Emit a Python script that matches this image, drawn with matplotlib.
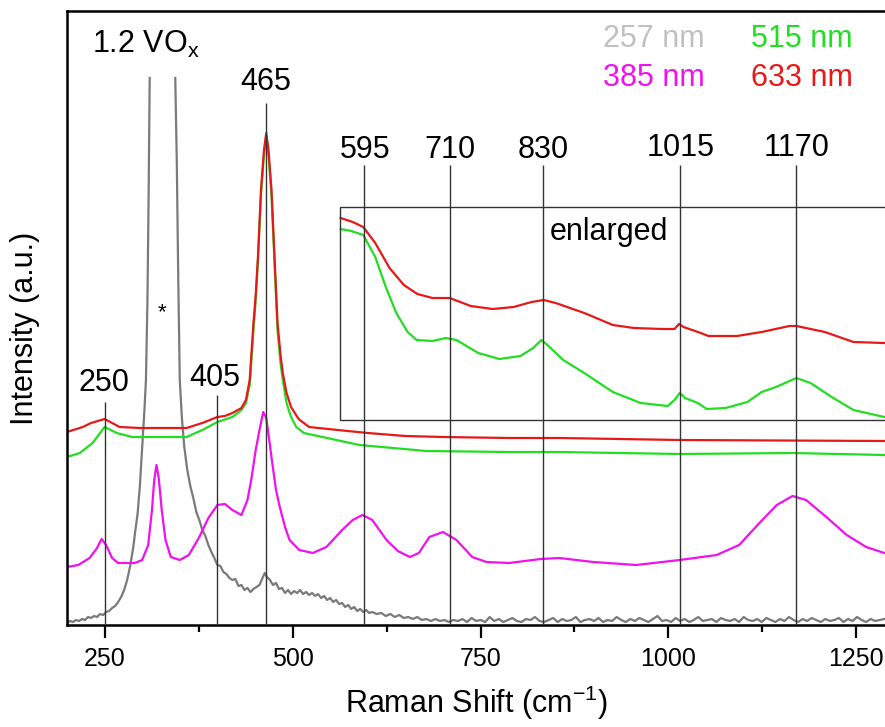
import numpy as np
import matplotlib
matplotlib.use('Agg')
import matplotlib.pyplot as plt
from matplotlib.patches import Rectangle

plt.rcParams['font.family'] = ['Liberation Sans', 'DejaVu Sans']
plt.rcParams['mathtext.default'] = 'regular'

# 633 nm spectrum (red)
red_x = [200, 221, 232, 250, 270, 297, 359, 380, 400, 410, 420, 432, 438, 443, 448, 451, 454, 458, 462, 465,
         468, 472, 476, 480, 484, 487, 492, 498, 508, 522, 560, 600, 650, 700, 788, 855, 1015, 1287]
red_y = [193, 198, 202, 206, 198, 197, 197, 202, 208, 209, 212, 217, 225, 245, 302, 330, 368, 435, 475, 492,
         475, 435, 368, 302, 270, 252, 232, 218, 206, 198, 195, 192, 189, 188, 187, 187, 185, 184]

# 515 nm spectrum (green)
green_x = [200, 217, 234, 250, 266, 287, 359, 380, 400, 420, 432, 438, 443, 448, 451, 454, 458, 462, 465,
           468, 472, 476, 480, 484, 487, 492, 498, 505, 515, 540, 589, 678, 788, 855, 1015, 1165, 1287]
green_y = [168, 172, 182, 198, 192, 188, 188, 195, 203, 208, 215, 222, 240, 295, 325, 365, 430, 470, 489,
           470, 430, 363, 295, 262, 245, 222, 208, 198, 192, 188, 180, 174, 173, 173, 171, 172, 170]

# 385 nm spectrum (magenta)
mag_x = [200, 215, 230, 240, 246, 252, 260, 268, 290, 300, 308, 313, 316, 319, 322, 326, 331, 338, 350, 362,
         376, 388, 400, 410, 420, 432, 440, 445, 451, 456, 461, 465, 469, 473, 478, 483, 490, 496, 509, 527,
         545, 566, 580, 593, 606, 625, 640, 656, 668, 682, 700, 718, 739, 758, 788, 830, 855, 900, 957, 1015,
         1064, 1094, 1121, 1144, 1165, 1183, 1210, 1237, 1263, 1287]
mag_y = [58, 60, 67, 77, 86, 80, 67, 62, 62, 65, 80, 115, 145, 160, 147, 115, 85, 68, 65, 70,
         88, 107, 120, 121, 115, 110, 125, 145, 175, 195, 213, 207, 185, 162, 135, 118, 98, 85, 75, 72,
         78, 95, 105, 110, 105, 85, 74, 68, 72, 88, 93, 85, 68, 63, 62, 66, 67, 63, 60, 65,
         70, 80, 102, 120, 129, 125, 108, 90, 78, 72]

# 257 nm spectrum (gray), peak top cut off
gray_x = [200, 204, 208, 212, 216, 220, 224, 228, 232, 236, 240, 244, 248, 252, 256, 260, 264, 268, 272, 276,
          280, 284, 288, 291, 294, 297, 300, 303, 305, 307, 308.5, 310, 327,
          344, 346, 348, 350, 353, 356, 360, 364, 368, 372, 376, 380, 384, 388, 392, 396, 400, 404, 408, 412,
          416, 420, 424, 428, 432, 436, 440, 444, 448, 452, 456, 460, 463, 466, 470, 474, 478, 482, 486, 490,
          494, 498, 502, 506, 510, 514, 518, 522, 526, 530, 534, 538, 542, 546, 550, 554, 558, 562, 566, 570,
          574, 578, 582, 586, 590, 594, 598, 602, 606, 612, 618, 624, 630, 636, 642, 648, 654, 660, 666, 672,
          678, 684, 690, 696, 702, 708, 714]
gray_y = [2, 4, 3, 5, 4, 6, 5, 8, 7, 9, 8, 11, 10, 13, 14, 17, 19, 23, 28, 35,
          45, 59, 77, 95, 112, 140, 178, 215, 245, 325, 425, 547, np.nan,
          547, 465, 345, 245, 205, 178, 155, 139, 127, 113, 105, 95, 89, 80, 73, 67, 60, 59, 53, 51,
          47, 45, 46, 39, 40, 35, 37, 33, 36, 38, 40, 47, 52, 48, 45, 40, 42, 36, 37, 32,
          35, 31, 34, 32, 35, 31, 33, 30, 32, 29, 31, 27, 29, 25, 27, 23, 25, 21, 22, 18,
          20, 16, 18, 14, 16, 13, 15, 12, 13, 11, 12, 9, 11, 8, 10, 7, 8, 6, 8, 5,
          6, 4, 6, 4, 5, 3, 5]
gray_tail = [4, 6, 3, 7, 4, 5, 3, 8, 4, 6, 3, 5, 7, 4, 3, 6, 5, 8, 4, 3, 5, 7, 3, 6, 4, 5, 8, 3, 5, 6,
             4, 7, 3, 5, 4, 8, 5, 3, 6, 4, 7, 5, 3, 6, 9, 4, 5, 3, 7, 4, 6, 3, 5, 8, 4, 5, 6, 3, 7, 5,
             4, 6, 3, 8, 5, 4, 6, 3, 7, 5, 3, 6, 4, 8, 5, 3, 6, 4, 7, 5, 3, 6, 4, 5, 7, 3, 6, 4, 8, 5,
             3, 6, 4, 5, 6]
gray_x = gray_x + list(np.linspace(720, 1287, len(gray_tail)))
gray_y = gray_y + gray_tail

# enlarged 600-1300 region (inset box)
red_big_x = [564, 580, 594, 610, 629, 648, 666, 686, 709, 737, 766, 794, 818, 834, 850, 888, 926, 954, 992,
             1008, 1014, 1020, 1043, 1053, 1091, 1124, 1161, 1170, 1208, 1246, 1287]
red_big_y = [407, 403, 398, 382, 357, 340, 331, 327, 327, 319, 316, 318, 323, 325, 322, 312, 300, 297, 296,
             296, 301, 298, 292, 289, 289, 293, 299, 299, 293, 283, 282]
green_big_x = [564, 578, 594, 610, 624, 638, 653, 665, 686, 704, 718, 747, 775, 803, 820, 831, 839, 860, 888,
               926, 963, 999, 1008, 1015, 1022, 1039, 1051, 1076, 1105, 1124, 1143, 1170, 1189, 1217, 1246, 1287]
green_big_y = [396, 394, 390, 368, 338, 312, 293, 285, 284, 287, 285, 272, 266, 269, 277, 285, 280, 265, 252,
               233, 222, 219, 225, 232, 227, 222, 216, 217, 223, 233, 238, 247, 242, 228, 215, 208]

# marked bands
band_pos = [250, 400, 465, 595, 710, 833, 1015, 1170]
band_lbl = ['250', '405', '465', '595', '710', '830', '1015', '1170']
band_top = [223, 230, 522, 460, 460, 460, 460, 460]
lbl_x = [249, 396, 464, 596, 710, 834, 1016, 1170]
lbl_y = [242, 247, 543, 475, 475, 475, 477, 477]

fig = plt.figure(figsize=(8.85, 7.27), dpi=100)
ax = fig.add_axes([67 / 885, 1 - 625 / 727, 1 - 67 / 885, 614 / 727])

ax.plot(gray_x, gray_y, color='#7a7a7a', lw=1.6)
ax.plot(mag_x, mag_y, color='#f010f0', lw=1.6)
ax.plot(green_x, green_y, color='#22dd22', lw=1.6)
ax.plot(red_x, red_y, color='#e81818', lw=1.6)
ax.plot(green_big_x, green_big_y, color='#22dd22', lw=1.6)
ax.plot(red_big_x, red_big_y, color='#e81818', lw=1.6)

ax.add_patch(Rectangle((563, 205), 800, 213, fill=False, ec='#333333', lw=1.0, zorder=3))
ax.vlines(band_pos, 0, band_top, colors='#333333', lw=1.0, zorder=4)
for x, y, t in zip(lbl_x, lbl_y, band_lbl):
    ax.text(x, y, t, fontsize=22, ha='center', va='center')

ax.text(233, 581, '1.2 VO$_x$', fontsize=22, ha='left', va='center')
ax.text(327, 312, '*', fontsize=16, ha='center', va='center')
ax.text(921, 393, 'enlarged', fontsize=22, ha='center', va='center')

ax.text(1048, 586, '257 nm', fontsize=22, color='#c0c0c0', ha='right', va='center')
ax.text(1048, 547, '385 nm', fontsize=22, color='#f010f0', ha='right', va='center')
ax.text(1110, 586, '515 nm', fontsize=22, color='#22dd22', ha='left', va='center')
ax.text(1110, 547, '633 nm', fontsize=22, color='#e81818', ha='left', va='center')

ax.set_xlim(200, 1288)
ax.set_ylim(0, 614)
ax.set_xticks([250, 500, 750, 1000, 1250])
ax.set_xticks([375, 625, 875, 1125], minor=True)
ax.set_yticks([])
ax.tick_params(axis='x', which='major', direction='out', length=9, width=1.6, labelsize=18, pad=7)
ax.tick_params(axis='x', which='minor', direction='out', length=5, width=1.6)
for s in ['left', 'top', 'bottom']:
    ax.spines[s].set_linewidth(1.8)
ax.spines['right'].set_visible(False)

fig.text(476 / 885, 1 - 713 / 727, 'Raman Shift (cm$^{-1}$)', fontsize=22, ha='center', va='baseline')
fig.text(25 / 885, 1 - 328 / 727, 'Intensity (a.u.)', fontsize=22, rotation=90, ha='center', va='center')

fig.savefig('out.png', dpi=100)
